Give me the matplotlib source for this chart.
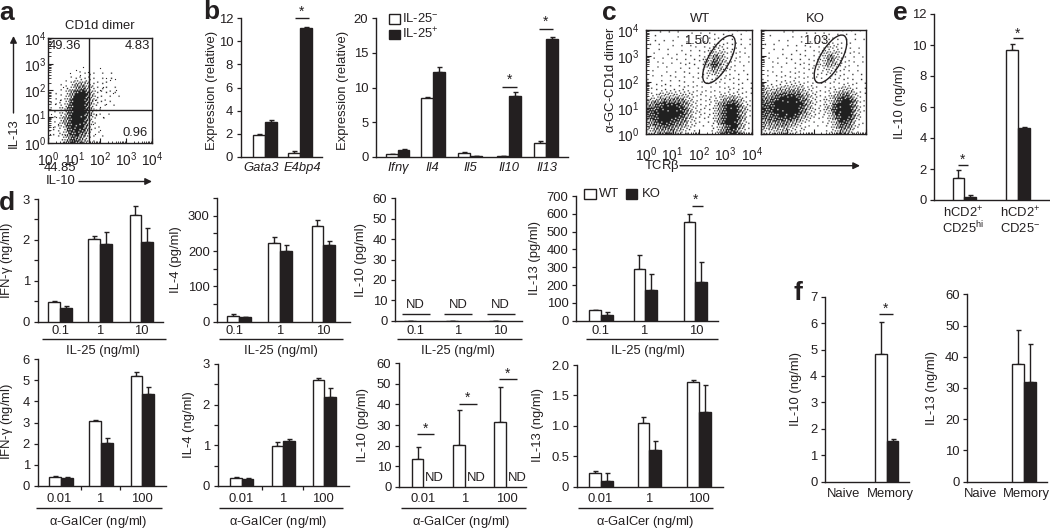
import numpy as np
import matplotlib
matplotlib.use('Agg')
import matplotlib.pyplot as plt
from matplotlib.patches import Ellipse, Rectangle

plt.rcParams['font.family'] = ['Liberation Sans', 'DejaVu Sans']
plt.rcParams['mathtext.default'] = 'regular'
plt.rcParams['mathtext.fontset'] = 'custom'
plt.rcParams['mathtext.rm'] = 'Liberation Sans'
plt.rcParams['mathtext.it'] = 'Liberation Sans:italic'

# ---------- data ----------
# panel a: density (rows top->bottom, log10 y 2.75->0; cols log10 x 0->3)
a_density = [
    [0, 0, 0, 0, .02, .04, .06, .05, .04, .02, 0, 0],
    [0, 0, .03, .06, .18, .25, .12, .08, .05, .03, .02, 0],
    [0, .03, .06, .18, .55, .6, .25, .1, .07, .05, .03, 0],
    [.02, .04, .1, .4, .95, 1, .4, .12, .07, .06, .04, 0],
    [.03, .05, .12, .6, 1, 1, .45, .12, .06, .05, .03, 0],
    [.04, .06, .2, .75, 1, 1, .4, .1, .05, .03, .02, 0],
    [.05, .08, .25, .85, 1, 1, .35, .08, .04, .02, 0, 0],
    [.06, .1, .3, .9, 1, .95, .25, .06, .03, 0, 0, 0],
    [.06, .1, .3, .85, 1, .85, .2, .05, .02, 0, 0, 0],
    [.05, .08, .2, .75, .95, .65, .15, .04, 0, 0, 0, 0],
    [.03, .05, .15, .55, .7, .35, .08, .02, 0, 0, 0, 0],
]
a_sparse_x = [1.99, 2.24, 2.56, 2.37, 2.12, 1.99, 2.5, 2.63, 1.8, 1.99, 2.24, 1.86, 2.12, 1.74, 1.99, 1.8, 1.67,
              .13, .32, .19, .45, .26, .06, .58, .83, 1.09, 1.35, 1.54, 1.22, .38, .64]
a_sparse_y = [2.84, 2.46, 2.42, 2.39, 2.14, 2.01, 1.89, 2.01, 1.63, 1.38, 1.5, 1.12, .99, .73, .48, .36, 1.06,
              1.12, .99, .61, 1.63, 1.5, .36, 2.14, 2.65, 2.78, 2.9, 2.72, 2.58, .74, .29]
a_quadrants = ['49.36', '4.83', '0.96', '44.85']

# panel b
b1_genes = ['Gata3', 'E4bp4']
b1_neg = [1.85, 0.28]
b1_pos = [3.0, 11.15]
b1_neg_err = [0.1, 0.25]
b1_pos_err = [0.15, 0.1]
b2_genes = ['Ifn$\\gamma$', 'Il4', 'Il5', 'Il10', 'Il13']
b2_neg = [0.35, 8.45, 0.55, 0.08, 2.05]
b2_pos = [1.0, 12.25, 0.1, 8.8, 17.0]
b2_neg_err = [0.1, 0.15, 0.15, 0.02, 0.15]
b2_pos_err = [0.05, 0.7, 0.05, 0.6, 0.25]

# panel c density (rows top->bottom, log10 y 4->0; cols log10 x 0->4)
c_wt = [
    [.02, .02, .03, .03, .03, .03, .03, .04, .04, .04, .05, .05, .04, .04, .03, .02],
    [.02, .03, .03, .03, .03, .03, .04, .04, .05, .06, .08, .08, .06, .05, .04, .03],
    [.03, .03, .03, .03, .03, .04, .04, .05, .06, .10, .14, .14, .10, .07, .05, .04],
    [.03, .03, .03, .03, .04, .04, .04, .05, .07, .14, .30, .30, .12, .07, .05, .04],
    [.03, .03, .03, .04, .04, .04, .05, .05, .08, .25, .70, .35, .12, .07, .05, .04],
    [.03, .03, .04, .04, .04, .05, .05, .05, .08, .35, .85, .30, .10, .06, .05, .04],
    [.03, .03, .04, .04, .05, .05, .05, .05, .07, .20, .30, .15, .08, .06, .05, .03],
    [.03, .04, .04, .05, .05, .05, .05, .05, .06, .08, .08, .07, .06, .06, .05, .03],
    [.04, .05, .06, .06, .06, .06, .06, .05, .05, .05, .06, .06, .07, .07, .05, .03],
    [.06, .08, .10, .10, .10, .10, .10, .08, .07, .07, .07, .08, .10, .10, .08, .05],
    [.15, .30, .40, .45, .45, .40, .25, .12, .08, .08, .10, .25, .40, .40, .20, .06],
    [.45, .70, .85, .90, .90, .75, .40, .15, .08, .08, .15, .60, .90, .95, .40, .08],
    [.60, .85, 1, 1, 1, .85, .45, .15, .08, .08, .20, .70, 1, 1, .50, .08],
    [.55, .85, 1, 1, .95, .75, .35, .12, .07, .07, .20, .70, 1, 1, .50, .08],
    [.40, .70, .80, .85, .70, .50, .20, .08, .05, .05, .15, .60, .95, .95, .35, .06],
    [.20, .40, .50, .50, .40, .25, .10, .05, .03, .03, .08, .40, .80, .80, .25, .04],
]
c_ko = [
    [.02, .02, .02, .03, .03, .03, .03, .03, .04, .04, .04, .04, .04, .03, .03, .02],
    [.02, .02, .03, .03, .03, .03, .03, .04, .05, .06, .08, .08, .05, .04, .03, .03],
    [.02, .03, .03, .03, .03, .04, .04, .04, .06, .10, .14, .12, .08, .05, .04, .03],
    [.03, .03, .03, .03, .04, .04, .04, .05, .07, .15, .32, .25, .10, .06, .04, .03],
    [.03, .03, .03, .04, .04, .04, .05, .05, .08, .28, .72, .30, .10, .06, .05, .03],
    [.03, .03, .04, .04, .04, .05, .05, .06, .08, .25, .45, .20, .08, .06, .05, .03],
    [.03, .04, .04, .04, .05, .05, .06, .06, .07, .12, .15, .10, .07, .06, .04, .03],
    [.04, .05, .05, .06, .07, .08, .08, .08, .07, .06, .07, .07, .07, .06, .05, .03],
    [.08, .10, .12, .15, .18, .18, .14, .10, .07, .06, .07, .08, .10, .10, .06, .03],
    [.25, .35, .45, .55, .60, .55, .35, .18, .08, .07, .10, .25, .45, .40, .15, .04],
    [.55, .65, .80, .95, 1, .90, .65, .30, .10, .08, .20, .55, .85, .80, .30, .05],
    [.70, .80, .95, 1, 1, 1, .75, .30, .10, .10, .30, .85, 1, 1, .40, .05],
    [.70, .80, .95, 1, 1, .95, .60, .25, .10, .10, .35, .90, 1, 1, .40, .05],
    [.55, .70, .80, .90, .85, .65, .35, .15, .07, .07, .20, .65, 1, .90, .30, .04],
    [.40, .50, .55, .55, .45, .30, .15, .07, .05, .05, .12, .40, .85, .65, .15, .03],
    [.20, .25, .30, .30, .20, .12, .06, .04, .03, .03, .06, .25, .60, .35, .08, .02],
]
c_gates = ['1.50', '1.03']

# panel d, top row
il25_doses = ['0.1', '1', '10']
d1_wt = [0.48, 2.02, 2.6]
d1_ko = [0.33, 1.9, 1.95]
d1_wt_err = [0.03, 0.07, 0.22]
d1_ko_err = [0.05, 0.3, 0.35]
d2_wt = [15, 222, 272]
d2_ko = [12, 200, 218]
d2_wt_err = [6, 18, 15]
d2_ko_err = [2, 16, 10]
d4_wt = [60, 290, 553]
d4_ko = [30, 175, 215]
d4_wt_err = [2, 80, 47]
d4_ko_err = [20, 85, 115]
# panel d, bottom row
galcer_doses = ['0.01', '1', '100']
d5_wt = [0.42, 3.08, 5.22]
d5_ko = [0.36, 2.02, 4.33]
d5_wt_err = [0.03, 0.05, 0.17]
d5_ko_err = [0.03, 0.25, 0.37]
d6_wt = [0.2, 0.98, 2.6]
d6_ko = [0.18, 1.1, 2.19]
d6_wt_err = [0.02, 0.11, 0.05]
d6_ko_err = [0.01, 0.05, 0.22]
d7_wt = [13.5, 20.3, 31.5]
d7_wt_err = [6, 17, 17]
d8_wt = [0.22, 1.05, 1.72]
d8_ko = [0.09, 0.6, 1.23]
d8_wt_err = [0.03, 0.1, 0.03]
d8_ko_err = [0.14, 0.15, 0.44]
# panel e
e_wt = [1.4, 9.7]
e_ko = [0.22, 4.65]
e_wt_err = [0.55, 0.35]
e_ko_err = [0.12, 0.05]
# panel f
f1_wt = [4.82]
f1_ko = [1.55]
f1_wt_err = [1.23]
f1_ko_err = [0.06]
f2_wt = [37.6]
f2_ko = [32.0]
f2_wt_err = [11]
f2_ko_err = [12]

# ---------- layout ----------
W, H = 1050, 528
INK = '#231f20'
FS = 9.4
BW = 11.8
fig = plt.figure(figsize=(W / 100, H / 100), dpi=100, facecolor='white')
plt.rcParams['text.color'] = INK


def axpx(x0, ytop, x1, ybot):
    return fig.add_axes([x0 / W, 1 - ybot / H, (x1 - x0) / W, (ybot - ytop) / H])


ov = fig.add_axes([0, 0, 1, 1], zorder=10)
ov.set_xlim(0, W)
ov.set_ylim(H, 0)
ov.axis('off')
ov.patch.set_alpha(0)


def txt(x, y, s, rot=0, ha='center', size=FS, **kw):
    ov.text(x, y, s, rotation=rot, ha=ha, va='center', fontsize=size, color=INK, **kw)


def line(x0, x1, y0, y1=None, lw=1.0):
    ov.plot([x0, x1], [y0, y0 if y1 is None else y1], color=INK, lw=lw, solid_capstyle='butt')


def arrow(x0, y0, x1, y1):
    ov.annotate('', xy=(x1, y1), xytext=(x0, y0),
                arrowprops=dict(arrowstyle='-|>', color=INK, lw=1.0, mutation_scale=10, shrinkA=0, shrinkB=0))


def star(x, y, x0, x1, ly):
    txt(x, y + 2, '*', size=10)
    line(x0, x1, ly)


def bars(rect, ymax, ticks, ticklabels, minor, centers, white, white_err, black=None, black_err=None, xticks=()):
    x0, ytop, x1, ybot = rect
    ax = axpx(x0, ytop, x1, ybot)
    ax.set_xlim(x0, x1)
    ax.set_ylim(0, ymax)
    ax.patch.set_alpha(0)
    for s in ('top', 'right'):
        ax.spines[s].set_visible(False)
    for s in ('left', 'bottom'):
        ax.spines[s].set_linewidth(1.0)
        ax.spines[s].set_color(INK)
    c = np.array(centers, dtype=float)
    ax.bar(c - BW / 2, white, BW, facecolor='white', edgecolor=INK, lw=1.0, zorder=3)
    ax.errorbar(c - BW / 2, white, yerr=[np.zeros(len(white)), white_err], fmt='none', ecolor=INK,
                elinewidth=1.0, capsize=1.8, capthick=1.0, zorder=2)
    if black is not None:
        ax.bar(c + BW / 2, black, BW, facecolor=INK, edgecolor=INK, lw=1.0, zorder=3)
        ax.errorbar(c + BW / 2, black, yerr=[np.zeros(len(black)), black_err], fmt='none', ecolor=INK,
                    elinewidth=1.0, capsize=1.8, capthick=1.0, zorder=2)
    ax.set_yticks(ticks)
    ax.set_yticklabels(ticklabels, fontsize=FS, color=INK)
    ax.set_yticks(minor, minor=True)
    ax.set_xticks(list(xticks))
    ax.set_xticklabels([])
    ax.tick_params(axis='y', which='both', length=3, width=0.9, color=INK, pad=2.5)
    ax.tick_params(axis='x', length=3, width=0.9, color=INK)
    return ax


def stipple(density, extent, rect):
    """Render a density grid as dots with a fixed, ordered dither at the axes' pixel scale."""
    x0, ytop, x1, ybot = rect
    d = np.asarray(density, dtype=float)
    nx = int((x1 - x0) * 0.8 * (extent[1] - extent[0]) / 4)
    ny = int((ybot - ytop) * 0.8 * (extent[3] - extent[2]) / 4)
    col_pos = (np.arange(nx) + .5) / nx * d.shape[1] - .5
    row_pos = (np.arange(ny) + .5) / ny * d.shape[0] - .5
    by_col = np.array([np.interp(col_pos, np.arange(d.shape[1]), r) for r in d])
    fine = np.array([np.interp(row_pos, np.arange(d.shape[0]), by_col[:, j]) for j in range(nx)]).T
    jj, ii = np.meshgrid(np.arange(nx), np.arange(ny))
    threshold = (ii * 0.7548777 + jj * 0.5698403) % 1
    return (fine > threshold).astype(float)


def flow(rect, density, extent, labels=True, xpad=3, ypad=3):
    x0, ytop, x1, ybot = rect
    ax = axpx(x0, ytop, x1, ybot)
    ax.imshow(stipple(density, extent, rect), cmap='gray_r', vmin=0, vmax=1.15, extent=extent,
              interpolation='bilinear', aspect='auto', zorder=1)
    ax.set_xlim(0, 4)
    ax.set_ylim(0, 4)
    decades = [0, 1, 2, 3, 4]
    minors = [d + np.log10(m) for d in decades[:-1] for m in range(2, 10)]
    ax.set_xticks(decades)
    ax.set_yticks(decades)
    ax.set_xticks(minors, minor=True)
    ax.set_yticks(minors, minor=True)
    lab = ['$10^{%d}$' % d for d in decades]
    ax.set_xticklabels(lab if labels != 'ko' else [], fontsize=FS + .4, color=INK)
    ax.set_yticklabels(lab if labels is True else [], fontsize=FS + .4, color=INK)
    ax.tick_params(which='major', direction='in', length=3.5, width=0.8, color=INK)
    ax.tick_params(which='minor', direction='in', length=1.8, width=0.6, color=INK)
    ax.tick_params(axis='x', which='major', pad=xpad)
    ax.tick_params(axis='y', which='major', pad=ypad)
    for s in ax.spines.values():
        s.set_linewidth(1.0)
        s.set_color(INK)
    return ax


# ---------- panel letters ----------
for x, y, s in [(7, 13, 'a'), (211, 12, 'b'), (609, 13, 'c'), (7, 203, 'd'), (900, 13, 'e'), (798, 293, 'f')]:
    txt(x, y, s, size=19, fontweight='bold')

# ---------- panel a ----------
ax = flow((48, 38, 152, 143), a_density, (0, 3, 0, 2.75), xpad=5, ypad=1.5)
ax.scatter(a_sparse_x, a_sparse_y, s=0.8, color=INK, linewidths=0, zorder=2)
ax.axvline(1.57, color=INK, lw=1.0, zorder=3)
ax.axhline(1.25, color=INK, lw=1.0, zorder=3)
txt(100, 26, 'CD1d dimer')
txt(65, 46, a_quadrants[0])
txt(137.5, 46, a_quadrants[1])
txt(135, 132.5, a_quadrants[2])
txt(60, 168, a_quadrants[3])
txt(61, 181.5, 'IL-10')
arrow(79, 181.5, 152, 181.5)
txt(13.5, 133, 'IL-13', rot=90)
arrow(13.5, 113, 13.5, 36)

# ---------- panel b ----------
b_ticks1 = [0, 2, 4, 6, 8, 10, 12]
bars((240.7, 18.3, 322, 156.7), 12, b_ticks1, [str(t) for t in b_ticks1], [], [265, 300],
     b1_neg, b1_neg_err, b1_pos, b1_pos_err)
for x, g in zip([260.7, 302.7], b1_genes):
    txt(x, 168, g, style='italic')
txt(211.7, 90, 'Expression (relative)', rot=90)
star(302, 9.5, 295, 309.3, 18.3)

b_ticks2 = [0, 5, 10, 15, 20]
bars((376, 18.3, 568, 156.7), 20, b_ticks2, [str(t) for t in b_ticks2], [], [397.7, 433, 470, 509, 546],
     b2_neg, b2_neg_err, b2_pos, b2_pos_err)
for x, g in zip([399, 432.3, 470, 509, 546.7], b2_genes):
    txt(x, 168, g, style='italic')
txt(342.7, 90, 'Expression (relative)', rot=90)
star(509.3, 78, 502.3, 516.7, 87.3)
star(546, 20, 539.3, 553.3, 29)
ov.add_patch(Rectangle((389, 14), 11, 9.5, facecolor='white', edgecolor=INK, lw=1.0))
ov.add_patch(Rectangle((389, 29.5), 11, 9.5, facecolor=INK, edgecolor=INK, lw=1.0))
txt(402, 18.5, 'IL-25$^{-}$', ha='left')
txt(402, 33.5, 'IL-25$^{+}$', ha='left')

# ---------- panel c ----------
flow((646, 30, 752, 134), c_wt, (0, 4, 0, 4), xpad=8, ypad=5)
flow((761, 30, 866, 134), c_ko, (0, 4, 0, 4), labels='ko')
for x, y, s in [(700, 19, 'WT'), (815.7, 19, 'KO'), (697, 40.7, c_gates[0]), (815.7, 40.7, c_gates[1])]:
    txt(x, y, s)
for cx, cy in [(719, 59.5), (830.5, 59)]:
    ov.add_patch(Ellipse((cx, cy), 54, 21, angle=-60, facecolor='none', edgecolor=INK, lw=1.0))
txt(610.7, 80, '$\\alpha$-GC-CD1d dimer', rot=90)
txt(661.7, 165.7, 'TCR$\\beta$')
arrow(680, 165.7, 860, 165.7)

# ---------- panel d ----------
def under(x0, x1, y, cx, ly, label):
    line(x0, x1, y)
    txt(cx, ly, label)


def doses(xs, y, labels):
    for x, s in zip(xs, labels):
        txt(x, y, s)


t = [0, 1, 2, 3]
bars((37.7, 199, 163, 321.7), 3, t, [str(v) for v in t], [.5, 1.5, 2.5], [60, 100, 141.3],
     d1_wt, d1_wt_err, d1_ko, d1_ko_err)
doses([60, 100, 141.3], 330.5, il25_doses)
under(42, 166, 339.3, 103, 350.8, 'IL-25 (ng/ml)')
txt(7.3, 260, 'IFN-$\\gamma$ (ng/ml)', rot=90)

t = [0, 100, 200, 300]
bars((217.3, 198, 350, 321.7), 350, t, [str(v) for v in t], [50, 150, 250, 350], [239, 280, 323.3],
     d2_wt, d2_wt_err, d2_ko, d2_ko_err)
doses([235, 280, 323.3], 330.5, il25_doses)
under(219, 343, 339.3, 281, 350.8, 'IL-25 (ng/ml)')
txt(175.7, 260, 'IL-4 (pg/ml)', rot=90)

t = [0, 10, 20, 30, 40, 50, 60]
bars((395, 198.3, 521.7, 320.7), 60, t, [str(v) for v in t], [], [415.7, 458, 500.7], [0, 0, 0], [0, 0, 0])
doses([415.7, 458, 500.7], 330.5, il25_doses)
under(396.7, 521.7, 339.3, 458, 350.8, 'IL-25 (ng/ml)')
txt(361, 260, 'IL-10 (pg/ml)', rot=90)
for cx, a, b in [(415.7, 401.7, 430), (458, 444, 472), (500.7, 486.7, 515)]:
    txt(cx, 305, 'ND')
    line(a, b, 314)

t = [0, 100, 200, 300, 400, 500, 600, 700]
bars((576, 196, 717.7, 320.7), 700, t, [str(v) for v in t], [], [600.7, 645.3, 695.3],
     d4_wt, d4_wt_err, d4_ko, d4_ko_err)
doses([600, 643.3, 696.7], 330.5, il25_doses)
under(586, 717.7, 339.3, 647.7, 350.8, 'IL-25 (ng/ml)')
txt(535, 258, 'IL-13 (pg/ml)', rot=90)
star(695.7, 197.5, 692, 702.7, 205.7)
ov.add_patch(Rectangle((583.5, 188.5), 12, 10.5, facecolor='white', edgecolor=INK, lw=1.0))
ov.add_patch(Rectangle((625.5, 188.5), 11, 10.5, facecolor=INK, edgecolor=INK, lw=1.0))
txt(599, 194, 'WT', ha='left')
txt(641.7, 194, 'KO', ha='left')

t = [0, 1, 2, 3, 4, 5, 6]
bars((37.7, 359.3, 165.7, 485.7), 6, t, [str(v) for v in t], [], [61, 101, 142.3],
     d5_wt, d5_wt_err, d5_ko, d5_ko_err, xticks=[81.3, 120])
doses([59, 100, 141.7], 499, galcer_doses)
under(36, 161.7, 508.3, 98.3, 521.5, '$\\alpha$-GalCer (ng/ml)')
txt(7.3, 421.7, 'IFN-$\\gamma$ (ng/ml)', rot=90)

t = [0, 1, 2, 3]
bars((217.7, 364, 349, 486), 3, t, [str(v) for v in t], [.5, 1.5, 2.5], [241.7, 283.3, 324.3],
     d6_wt, d6_wt_err, d6_ko, d6_ko_err, xticks=[261.7, 303.3])
doses([240.7, 282.7, 323], 499, galcer_doses)
under(219, 343, 508.3, 278, 521.5, '$\\alpha$-GalCer (ng/ml)')
txt(189, 425, 'IL-4 (ng/ml)', rot=90)

t = [0, 10, 20, 30, 40, 50, 60]
bars((399, 363.3, 525.7, 486.7), 60, t, [str(v) for v in t], [], [423.4, 464.9, 505.9], d7_wt, d7_wt_err)
doses([422.7, 464.3, 506.7], 499, galcer_doses)
under(400.7, 526, 508.3, 461, 521.5, '$\\alpha$-GalCer (ng/ml)')
txt(362.7, 425, 'IL-10 (pg/ml)', rot=90)
for x in (434, 476.7, 517):
    txt(x, 478, 'ND')
star(425.3, 426.5, 416.7, 434, 434.3)
star(467.8, 396, 459, 476.7, 403.7)
star(507.8, 371.5, 499, 516.7, 379)

t = [0, .5, 1, 1.5, 2]
bars((576.7, 365, 722.7, 486.7), 2, t, ['0', '0.5', '1.0', '1.5', '2.0'], [], [600.7, 649.3, 699],
     d8_wt, d8_wt_err, d8_ko, d8_ko_err)
doses([600, 649, 699], 499, galcer_doses)
under(578.3, 712.7, 508.3, 645, 521.5, '$\\alpha$-GalCer (ng/ml)')
txt(538.3, 425, 'IL-13 (ng/ml)', rot=90)

# ---------- panel e ----------
t = [0, 2, 4, 6, 8, 10, 12]
bars((934.3, 14, 1050, 200), 12, t, [str(v) for v in t], [], [964.3, 1017.7], e_wt, e_wt_err, e_ko, e_ko_err)
txt(900, 102, 'IL-10 (ng/ml)', rot=90)
star(963, 158, 958.3, 968.3, 165)
star(1017.7, 32, 1012.7, 1022.7, 38.3)
txt(963, 213, 'hCD2$^{+}$')
txt(963, 228, 'CD25$^{hi}$')
txt(1020, 213, 'hCD2$^{+}$')
txt(1020, 228, 'CD25$^{-}$')

# ---------- panel f ----------
t = list(range(8))
bars((825, 296.7, 909.3, 481.7), 7, t, [str(v) for v in t], [], [886.7], f1_wt, f1_wt_err, f1_ko, f1_ko_err)
txt(796, 389, 'IL-10 (ng/ml)', rot=90)
star(886, 306.7, 879.3, 893.3, 314)
txt(843.3, 494, 'Naive')
txt(890.7, 494, 'Memory')

t = [0, 10, 20, 30, 40, 50, 60]
bars((967.3, 294.3, 1046.7, 481.7), 60, t, [str(v) for v in t], [], [1024], f2_wt, f2_wt_err, f2_ko, f2_ko_err)
txt(932.3, 388, 'IL-13 (ng/ml)', rot=90)
txt(981, 494, 'Naive')
txt(1026.7, 494, 'Memory')

fig.savefig('out.png', dpi=100, facecolor='white')
